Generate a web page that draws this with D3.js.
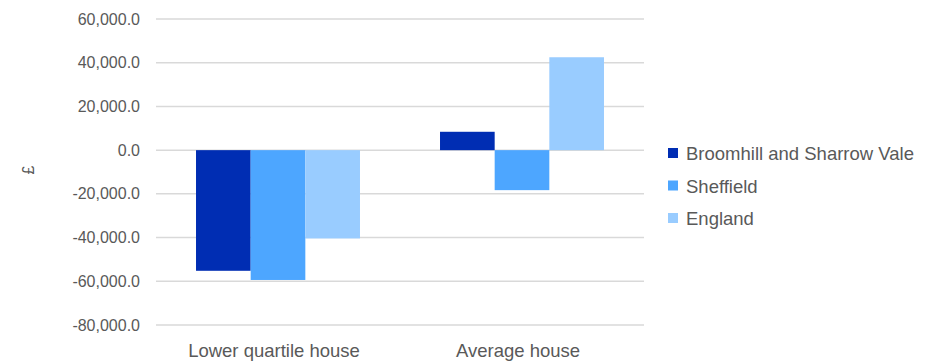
<!DOCTYPE html>
<html>
<head>
<meta charset="utf-8">
<script src="https://cdn.jsdelivr.net/npm/d3@7"></script>
<style>
  body { margin: 0; background: #fff; }
  text { font-family: "Liberation Sans", Arial, sans-serif; fill: #595959; }
</style>
</head>
<body>
<div id="chart"></div>
<script>
var categories = ["Lower quartile house", "Average house"];
var seriesNames = ["Broomhill and Sharrow Vale", "Sheffield", "England"];
var broomhill = [-55200, 8400];
var sheffield = [-59400, -18300];
var england = [-40400, 42500];
var tickValues = [60000, 40000, 20000, 0, -20000, -40000, -60000, -80000];
var colors = ["#002db3", "#4da6ff", "#99ccff"];

var seriesValues = [broomhill, sheffield, england];

var margin = { top: 19, left: 156, right: 291, bottom: 38 };
var width = 935 - margin.left - margin.right,
    height = 363 - margin.top - margin.bottom;

var svg = d3.select("#chart").append("svg")
    .attr("width", 935)
    .attr("height", 363);

var g = svg.append("g")
    .attr("transform", "translate(" + margin.left + "," + margin.top + ")");

var y = d3.scaleLinear().domain([-80000, 60000]).range([height, 0]);
var x0 = d3.scaleBand().domain(categories).range([0, width]).paddingInner(0.328).paddingOuter(0.164);
var x1 = d3.scaleBand().domain(seriesNames).range([0, x0.bandwidth()]);

// gridlines
g.append("g").selectAll("line")
    .data(tickValues)
    .enter().append("line")
    .attr("x1", 0)
    .attr("x2", width)
    .attr("y1", function(d) { return y(d); })
    .attr("y2", function(d) { return y(d); })
    .attr("stroke", "#d9d9d9")
    .attr("stroke-width", 1.5);

// y axis labels (plain hyphen for negatives)
var fmt = d3.format(",.1f");
var yAxis = d3.axisLeft(y).tickValues(tickValues).tickSize(0).tickPadding(16)
    .tickFormat(function(d) { return fmt(d).replace("\u2212", "-"); });
var ya = g.append("g").call(yAxis);
ya.select(".domain").remove();
ya.selectAll("text").style("font-size", "16px").attr("fill", "#595959")
    .style("font-family", "'Liberation Sans', Arial, sans-serif");

// x axis labels
var xAxis = d3.axisBottom(x0).tickSize(0).tickPadding(19);
var xa = g.append("g").attr("transform", "translate(0," + height + ")").call(xAxis);
xa.select(".domain").remove();
xa.selectAll("text").style("font-size", "18.5px").attr("fill", "#595959")
    .attr("dx", -4)
    .style("font-family", "'Liberation Sans', Arial, sans-serif");

// bars
seriesNames.forEach(function(name, i) {
    g.append("g").selectAll("rect")
        .data(seriesValues[i])
        .enter().append("rect")
        .attr("x", function(d, j) { return x0(categories[j]) + x1(name); })
        .attr("width", x1.bandwidth())
        .attr("y", function(d) { return y(Math.max(0, d)); })
        .attr("height", function(d) { return Math.abs(y(d) - y(0)); })
        .attr("fill", colors[i]);
});

// y title
svg.append("text")
    .attr("transform", "translate(34,170) rotate(-90)")
    .attr("text-anchor", "middle")
    .style("font-size", "16px")
    .text("£");

// legend, clipped at the right like the original
svg.append("clipPath").attr("id", "legclip")
    .append("rect").attr("x", 650).attr("y", 0).attr("width", 266).attr("height", 363);

var legend = svg.append("g").attr("clip-path", "url(#legclip)");
seriesNames.forEach(function(name, i) {
    var ly = 153 + i * 32.5;
    legend.append("rect")
        .attr("x", 668).attr("y", ly - 5)
        .attr("width", 10).attr("height", 10)
        .attr("fill", colors[i]);
    legend.append("text")
        .attr("x", 686).attr("y", ly + 7)
        .style("font-size", "18.5px")
        .text(name);
});
</script>
</body>
</html>
